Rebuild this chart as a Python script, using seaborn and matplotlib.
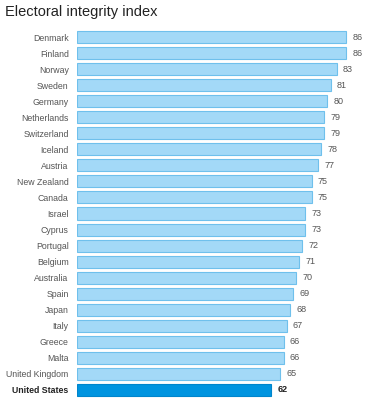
import seaborn as sns
import matplotlib.pyplot as plt
import pandas as pd

countries = ["Denmark", "Finland", "Norway", "Sweden", "Germany", "Netherlands",
             "Switzerland", "Iceland", "Austria", "New Zealand", "Canada", "Israel",
             "Cyprus", "Portugal", "Belgium", "Australia", "Spain", "Japan", "Italy",
             "Greece", "Malta", "United Kingdom", "United States"]
scores = [86, 86, 83, 81, 80, 79, 79, 78, 77, 75, 75, 73, 73, 72, 71, 70, 69, 68,
          67, 66, 66, 65, 62]
highlight = "United States"

df = pd.DataFrame({"country": countries, "score": scores})
colors = ["#0094e0" if c == highlight else "#a3d9f7" for c in countries]
edges = ["#0085cc" if c == highlight else "#6fc0ec" for c in countries]

sns.set_style("white")
plt.rcParams['font.family'] = ['Liberation Sans', 'DejaVu Sans']

fig = plt.figure(figsize=(3.77, 4.0), dpi=100)
ax = fig.add_axes([77 / 377, 0.005, 300 / 377, 0.9225])

sns.barplot(data=df, x="score", y="country", hue="country", palette=colors,
            legend=False, width=0.75, ax=ax, saturation=1)
for patch, ec in zip(ax.patches, edges):
    patch.set_edgecolor(ec)
    patch.set_linewidth(0.8)

ax.set_xlim(0, 300 / 3.13)
ax.set_ylim(len(countries) - 0.5, -0.5)
ax.set_xlabel("")
ax.set_ylabel("")
ax.set_xticks([])
sns.despine(ax=ax, left=True, bottom=True)
ax.tick_params(axis="y", length=0, pad=6)

for i, (c, v) in enumerate(zip(countries, scores)):
    bold = c == highlight
    ax.text(v + 2.0, i, str(v), va="center", ha="left", fontsize=6.5,
            color="#222222" if bold else "#555555",
            fontweight="bold" if bold else "normal")

for lab in ax.get_yticklabels():
    lab.set_fontsize(6.3)
    if lab.get_text() == highlight:
        lab.set_fontweight("bold")
        lab.set_color("#222222")
    else:
        lab.set_color("#555555")

fig.text(5 / 377, 1 - 12 / 400, "Electoral integrity index", fontsize=10.5,
         color="#222222", va="center", ha="left")

fig.savefig("out.png", dpi=100)
